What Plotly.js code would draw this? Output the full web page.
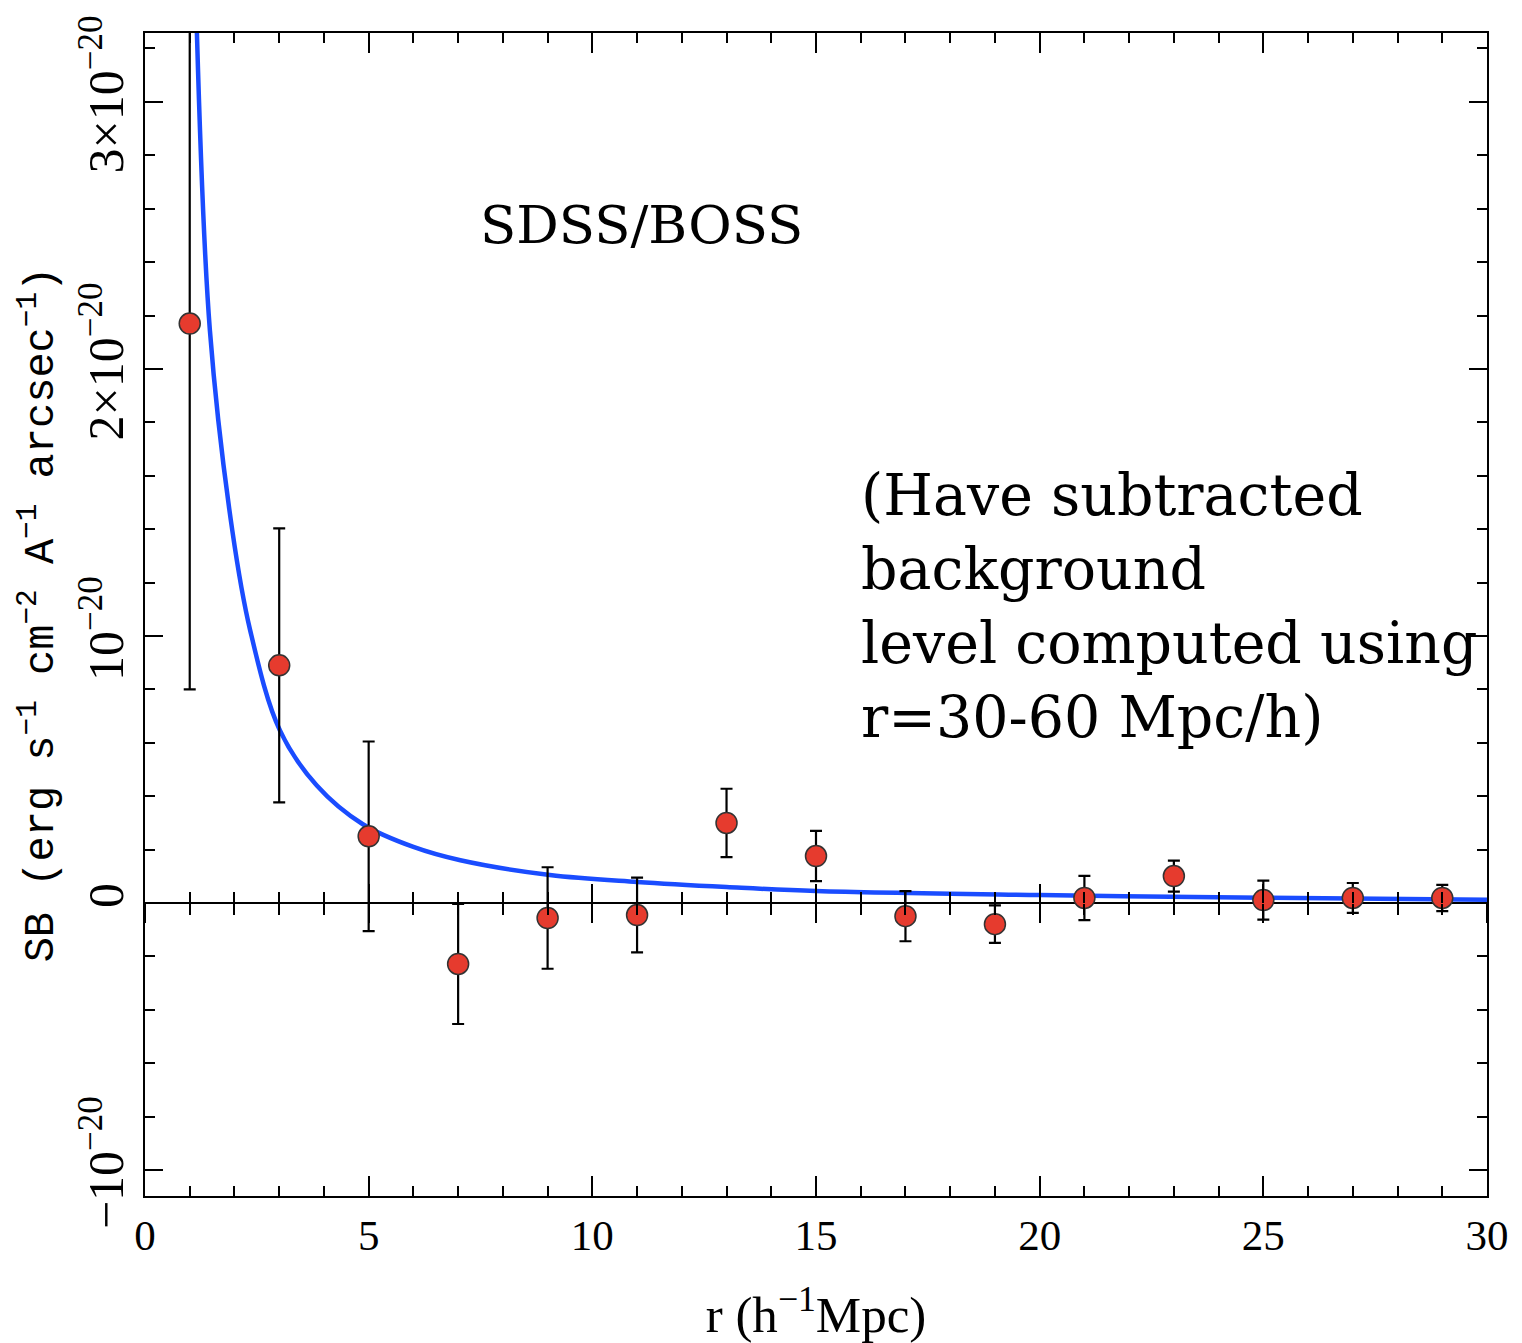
<!DOCTYPE html>
<html>
<head>
<meta charset="utf-8">
<script src="https://cdn.plot.ly/plotly-3.0.1.min.js"></script>
<style>html,body{margin:0;padding:0;background:#fff;}#plot{width:1522px;height:1343px;}</style>
</head>
<body>
<div id="plot"></div>
<script>
// Data (SB values in units of 1e-20 erg s^-1 cm^-2 A^-1 arcsec^-1)
const rBins = [1, 3, 5, 7, 9, 11, 13, 15, 17, 19, 21, 23, 25, 27, 29];
const sbE20 = [2.17, 0.89, 0.25, -0.228, -0.056, -0.045, 0.30, 0.176, -0.049, -0.079, 0.019, 0.101, 0.011, 0.019, 0.019];
const sbErrE20 = [1.37, 0.513, 0.355, 0.225, 0.19, 0.14, 0.128, 0.094, 0.094, 0.07, 0.083, 0.058, 0.073, 0.056, 0.049];

// Model curve
const modelR = [1.16, 1.45, 1.95, 2.35, 3.02, 3.84, 4.87, 6.0, 7.05, 9.05, 11.0, 13.0, 15.0, 20.0, 25.0, 30.0];
const modelSB = [3.26, 2.146, 1.397, 1.022, 0.645, 0.44, 0.295, 0.21, 0.16, 0.105, 0.079, 0.06, 0.045, 0.03, 0.02, 0.012];

// Axis ranges and ticks
const xRange = [0, 30];
const yRange = [-1.097, 3.258];
const yTickVals = [-1, 0, 1, 2, 3];
const yTickText = ['\u221210<sup>\u221220</sup>', '0', '10<sup>\u221220</sup>', '2\u00d710<sup>\u221220</sup>', '3\u00d710<sup>\u221220</sup>'];

const zeroPos = (0 - yRange[0]) / (yRange[1] - yRange[0]);

const traces = [
  {
    x: modelR, y: modelSB, type: 'scatter', mode: 'lines',
    line: {color: '#1a4cff', width: 4.5, shape: 'spline', smoothing: 1},
    hoverinfo: 'skip', showlegend: false
  },
  {
    x: rBins, y: sbE20, type: 'scatter', mode: 'markers',
    marker: {color: '#e63b2e', size: 21, line: {color: '#333', width: 1.5}},
    error_y: {type: 'data', array: sbErrE20, visible: true, color: '#000', thickness: 2.2, width: 6},
    showlegend: false
  },
  // helper traces so the zero-line tick axes get drawn
  {x: xRange, y: [null, null], xaxis: 'x2', type: 'scatter', mode: 'lines', showlegend: false, hoverinfo: 'skip'},
  {x: xRange, y: [null, null], xaxis: 'x3', type: 'scatter', mode: 'lines', showlegend: false, hoverinfo: 'skip'}
];

const zeroAxisBase = {
  overlaying: 'x', matches: 'x', anchor: 'free', position: zeroPos,
  showline: false, showticklabels: false, showgrid: false, zeroline: false,
  tickmode: 'linear', dtick: 5, tick0: 0, ticklen: 19, tickwidth: 2, tickcolor: '#000',
  minor: {dtick: 1, tick0: 0, ticklen: 11, tickwidth: 2, tickcolor: '#000', showgrid: false}
};

const layout = {
  width: 1522, height: 1343,
  margin: {l: 145, r: 35, t: 33, b: 147},
  paper_bgcolor: '#fff', plot_bgcolor: '#fff',
  showlegend: false,
  xaxis: {
    range: xRange, showgrid: false, zeroline: false,
    showline: true, linewidth: 2, linecolor: '#000', mirror: 'ticks',
    ticks: 'inside', ticklen: 20, tickwidth: 2, tickcolor: '#000',
    tickmode: 'linear', tick0: 0, dtick: 5,
    minor: {ticks: 'inside', dtick: 1, tick0: 0, ticklen: 10, tickwidth: 2, tickcolor: '#000', showgrid: false},
    tickfont: {family: 'Liberation Serif, serif', size: 43, color: '#000'},
    title: {text: 'r (h<sup>\u22121</sup>Mpc)', font: {family: 'Liberation Serif, serif', size: 51, color: '#000'}, standoff: 40}
  },
  xaxis2: Object.assign({}, zeroAxisBase, {ticks: 'inside', minor: Object.assign({}, zeroAxisBase.minor, {ticks: 'inside'})}),
  xaxis3: Object.assign({}, zeroAxisBase, {ticks: 'outside', minor: Object.assign({}, zeroAxisBase.minor, {ticks: 'outside'})}),
  yaxis: {
    range: yRange, showgrid: false,
    zeroline: true, zerolinecolor: '#000', zerolinewidth: 2,
    showline: true, linewidth: 2, linecolor: '#000', mirror: 'ticks',
    ticks: 'inside', ticklen: 18, tickwidth: 2, tickcolor: '#000',
    tickmode: 'array', tickvals: yTickVals, ticktext: yTickText,
    minor: {ticks: 'inside', dtick: 0.2, tick0: 0, ticklen: 10, tickwidth: 2, tickcolor: '#000', showgrid: false},
    tickangle: -90, tickfont: {family: 'Liberation Serif, serif', size: 50, color: '#000'},
    title: {text: 'SB (erg s<sup>\u22121</sup> cm<sup>\u22122</sup> A<sup>\u22121</sup> arcsec<sup>\u22121</sup>)',
            font: {family: 'Liberation Mono, monospace', size: 42, color: '#000'}, standoff: 4}
  },
  annotations: [
    {x: 11.1, y: 2.54, xref: 'x', yref: 'y', text: 'SDSS/BOSS', showarrow: false,
     xanchor: 'center', yanchor: 'middle', font: {family: 'DejaVu Serif, serif', size: 53, color: '#000'}},
    {x: 15.96, y: 1.66, xref: 'x', yref: 'y', text: '(Have subtracted<br>background<br>level computed using<br>r=30-60 Mpc/h)',
     showarrow: false, xanchor: 'left', yanchor: 'top', align: 'left',
     font: {family: 'DejaVu Serif, serif', size: 57, color: '#000'}}
  ]
};

Plotly.newPlot('plot', traces, layout, {displayModeBar: false, staticPlot: true});
</script>
</body>
</html>
